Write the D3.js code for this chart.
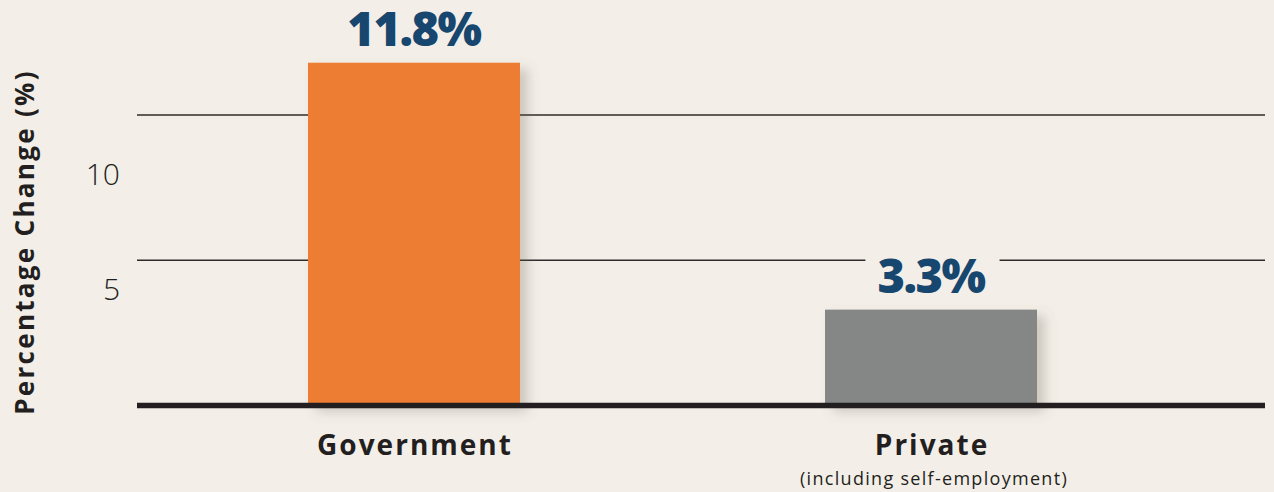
<!DOCTYPE html>
<html>
<head>
<meta charset="utf-8">
<script src="https://cdn.jsdelivr.net/npm/d3@7/dist/d3.min.js"></script>
<style>
  html, body { margin: 0; padding: 0; background: #f3efe8; }
  svg { display: block; }
</style>
</head>
<body>
<script>
// ---- data ----
const categories = ["Government", "Private"];
const values = [11.8, 3.3];
const valueLabels = ["11.8%", "3.3%"];
const subLabels = ["", "(including self-employment)"];
const tickValues = [5, 10];
const tickLabels = ["5", "10"];
const barColors = ["#ec7d31", "#858786"];

const W = 1274, H = 492;
const svg = d3.select("body").append("svg").attr("width", W).attr("height", H);
svg.append("rect").attr("width", W).attr("height", H).attr("fill", "#f3efe8");

const defs = svg.append("defs");
const f = defs.append("filter").attr("id", "shadow")
  .attr("x", "-20%").attr("y", "-20%").attr("width", "150%").attr("height", "150%");
f.append("feDropShadow").attr("dx", 8).attr("dy", 6).attr("stdDeviation", 6)
  .attr("flood-color", "#6b5f50").attr("flood-opacity", 0.28);

const x = d3.scaleBand().domain(categories).range([308, 1037]).paddingInner(0.59).paddingOuter(0);
const y = d3.scaleLinear().domain([0, 10]).range([405.5, 115]);

const left = 137, right = 1265;
const font = "'Open Sans', 'DejaVu Sans', sans-serif";
const blue = "#17466f";

// value labels (drawn first to measure for gridline gaps)
const vl = svg.append("g").selectAll("text").data(categories).join("text")
  .attr("x", d => x(d) + x.bandwidth() / 2)
  .attr("y", (d, i) => y(values[i]) - 17)
  .attr("text-anchor", "middle")
  .attr("font-family", font).attr("font-weight", 800).attr("font-size", 47)
  .attr("letter-spacing", -1.5)
  .attr("fill", blue)
  .text((d, i) => valueLabels[i]);

const boxes = vl.nodes().map(n => n.getBBox());

// gridlines with gaps around labels
const grid = svg.insert("g", "g");
tickValues.forEach(v => {
  const yy = y(v);
  let segs = [[left, right]];
  boxes.forEach(b => {
    if (yy > b.y + 4 && yy < b.y + b.height - 4) {
      const ns = [];
      segs.forEach(([a, c]) => {
        const g0 = b.x - 12, g1 = b.x + b.width + 14;
        if (g1 <= a || g0 >= c) { ns.push([a, c]); return; }
        if (g0 > a) ns.push([a, g0]);
        if (g1 < c) ns.push([g1, c]);
      });
      segs = ns;
    }
  });
  segs.forEach(([a, c]) => grid.append("line")
    .attr("x1", a).attr("x2", c).attr("y1", yy).attr("y2", yy)
    .attr("stroke", "#2e2b2a").attr("stroke-width", 1.6));
});

// bars
svg.append("g").selectAll("rect").data(categories).join("rect")
  .attr("x", d => x(d))
  .attr("width", x.bandwidth())
  .attr("y", (d, i) => y(values[i]))
  .attr("height", (d, i) => y(0) - y(values[i]))
  .attr("fill", (d, i) => barColors[i])
  .attr("filter", "url(#shadow)");

// baseline
svg.append("line").attr("x1", left).attr("x2", right)
  .attr("y1", y(0)).attr("y2", y(0))
  .attr("stroke", "#231f20").attr("stroke-width", 5.5);

vl.raise();

// tick labels
const tickOffset = { 5: 29, 10: 59 };
svg.append("g").selectAll("text").data(tickValues).join("text")
  .attr("x", 120)
  .attr("y", d => y(d) + tickOffset[d])
  .attr("dy", "0.36em")
  .attr("text-anchor", "end")
  .attr("font-family", font).attr("font-weight", 300).attr("font-size", 30)
  .attr("fill", "#231f20")
  .text((d, i) => tickLabels[i]);

// category labels
svg.append("g").selectAll("text").data(categories).join("text")
  .attr("x", d => x(d) + x.bandwidth() / 2 + 1)
  .attr("y", 455)
  .attr("text-anchor", "middle")
  .attr("font-family", font).attr("font-weight", 700).attr("font-size", 28)
  .attr("letter-spacing", 2)
  .attr("fill", "#231f20")
  .text(d => d);

svg.append("g").selectAll("text").data(categories).join("text")
  .attr("x", d => x(d) + x.bandwidth() / 2 + 3)
  .attr("y", 485)
  .attr("text-anchor", "middle")
  .attr("font-family", font).attr("font-weight", 400).attr("font-size", 18)
  .attr("letter-spacing", 1.3)
  .attr("fill", "#231f20")
  .text((d, i) => subLabels[i]);

// y axis title
svg.append("text")
  .attr("transform", "translate(34,242) rotate(-90)")
  .attr("text-anchor", "middle")
  .attr("font-family", font).attr("font-weight", 700).attr("font-size", 26)
  .attr("letter-spacing", 2.3)
  .attr("fill", "#231f20")
  .text("Percentage Change (%)");
</script>
</body>
</html>
